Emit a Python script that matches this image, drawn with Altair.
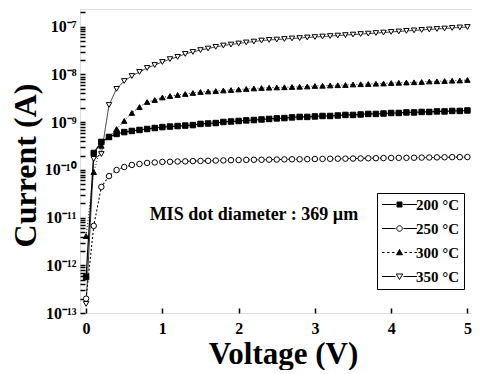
import altair as alt
import pandas as pd

voltage = [0.0, 0.1, 0.2, 0.3, 0.4, 0.5, 0.6, 0.7, 0.8, 0.9,
           1.0, 1.1, 1.2, 1.3, 1.4, 1.5, 1.6, 1.7, 1.8, 1.9,
           2.0, 2.1, 2.2, 2.3, 2.4, 2.5, 2.6, 2.7, 2.8, 2.9,
           3.0, 3.1, 3.2, 3.3, 3.4, 3.5, 3.6, 3.7, 3.8, 3.9,
           4.0, 4.1, 4.2, 4.3, 4.4, 4.5, 4.6, 4.7, 4.8, 4.9, 5.0]

i_200 = [5.7e-13, 2.26e-10, 3.85e-10, 4.9e-10, 5.67e-10, 6.2e-10, 6.55e-10, 6.87e-10, 7.2e-10, 7.55e-10,
         7.9e-10, 8.1e-10, 8.3e-10, 8.5e-10, 8.7e-10, 9.2e-10, 9.4e-10, 9.6e-10, 1.01e-9, 1.035e-9,
         1.06e-9, 1.09e-9, 1.11e-9, 1.14e-9, 1.17e-9, 1.2e-9, 1.22e-9, 1.26e-9, 1.29e-9, 1.29e-9,
         1.32e-9, 1.35e-9, 1.35e-9, 1.38e-9, 1.42e-9, 1.42e-9, 1.45e-9, 1.49e-9, 1.49e-9, 1.52e-9,
         1.56e-9, 1.56e-9, 1.6e-9, 1.6e-9, 1.64e-9, 1.64e-9, 1.68e-9, 1.68e-9, 1.72e-9, 1.72e-9, 1.76e-9]

i_250 = [2.0e-13, 6.7e-12, 4.4e-11, 7.4e-11, 9.95e-11, 1.15e-10, 1.27e-10, 1.33e-10, 1.4e-10, 1.43e-10,
         1.47e-10, 1.48e-10, 1.5e-10, 1.51e-10, 1.53e-10, 1.54e-10, 1.55e-10, 1.57e-10, 1.58e-10, 1.6e-10,
         1.61e-10, 1.62e-10, 1.63e-10, 1.63e-10, 1.64e-10, 1.65e-10, 1.66e-10, 1.67e-10, 1.67e-10, 1.68e-10,
         1.69e-10, 1.7e-10, 1.71e-10, 1.72e-10, 1.72e-10, 1.73e-10, 1.74e-10, 1.75e-10, 1.76e-10, 1.77e-10,
         1.78e-10, 1.79e-10, 1.79e-10, 1.8e-10, 1.81e-10, 1.82e-10, 1.83e-10, 1.84e-10, 1.85e-10, 1.85e-10, 1.86e-10]

i_300 = [4.1e-12, 9.0e-11, 3.2e-10, 4.9e-10, 7.2e-10, 1.06e-9, 1.56e-9, 2.08e-9, 2.65e-9, 2.92e-9,
         3.3e-9, 3.54e-9, 3.72e-9, 3.9e-9, 4.1e-9, 4.3e-9, 4.4e-9, 4.5e-9, 4.62e-9, 4.73e-9,
         4.85e-9, 4.97e-9, 5.09e-9, 5.21e-9, 5.28e-9, 5.34e-9, 5.4e-9, 5.47e-9, 5.53e-9, 5.6e-9,
         5.74e-9, 5.8e-9, 5.88e-9, 5.95e-9, 6.02e-9, 6.17e-9, 6.25e-9, 6.32e-9, 6.4e-9, 6.47e-9,
         6.63e-9, 6.7e-9, 6.79e-9, 6.87e-9, 6.96e-9, 7.13e-9, 7.2e-9, 7.3e-9, 7.4e-9, 7.48e-9, 7.67e-9]

i_350 = [1.55e-13, 1.7e-10, 2.15e-10, 2.3e-9, 5.0e-9, 7.3e-9, 9.3e-9, 1.13e-8, 1.37e-8, 1.58e-8,
         1.83e-8, 2.1e-8, 2.34e-8, 2.7e-8, 2.97e-8, 3.25e-8, 3.5e-8, 3.8e-8, 4.05e-8, 4.25e-8,
         4.47e-8, 4.7e-8, 4.9e-8, 5.15e-8, 5.3e-8, 5.4e-8, 5.55e-8, 5.7e-8, 5.8e-8, 5.97e-8,
         6.1e-8, 6.25e-8, 6.4e-8, 6.55e-8, 6.7e-8, 6.87e-8, 7.05e-8, 7.2e-8, 7.4e-8, 7.57e-8,
         7.8e-8, 7.98e-8, 8.2e-8, 8.4e-8, 8.6e-8, 8.8e-8, 9.0e-8, 9.2e-8, 9.45e-8, 9.7e-8, 9.9e-8]

series_names = ["200 °C", "250 °C", "300 °C", "350 °C"]
series_values = [i_200, i_250, i_300, i_350]

x_ticks = [0, 0.5, 1, 1.5, 2, 2.5, 3, 3.5, 4, 4.5, 5]
y_ticks = [m * 10.0 ** e for e in range(-13, -6) for m in range(1, 10) if m * 10.0 ** e <= 2.3e-7]
y_labels = ["10⁻¹³", "10⁻¹²", "10⁻¹¹", "10⁻¹⁰", "10⁻⁹", "10⁻⁸", "10⁻⁷"]

note_text = ["MIS dot diameter : 369 µm"]
note_x = [2.2]
note_y = [1.13e-11]

rows = []
for name, vals in zip(series_names, series_values):
    for v, i in zip(voltage, vals):
        rows.append({"V": v, "I": i, "T": name})
df = pd.DataFrame(rows)

# legend-only rows, placed outside the x domain so they are clipped away
legend_df = pd.DataFrame({"V": [-1.0] * 4, "I": [1e-10] * 4, "T": series_names})

FONT = "Liberation Serif"

xscale = alt.Scale(domain=[-0.08, 5.06], nice=False, zero=False)
yscale = alt.Scale(type="log", domain=[1e-13, 2.36e-7], nice=False)

label_arr = "[" + ",".join("'" + s + "'" for s in y_labels) + "]"
y_label_expr = (
    "abs(log(datum.value)/LN10 - round(log(datum.value)/LN10)) < 0.001 ? "
    + label_arr + "[round(log(datum.value)/LN10) + 13] : ''"
)

xaxis = alt.Axis(values=x_ticks, labelExpr="datum.value % 1 == 0 ? format(datum.value, 'd') : ''",
                 offset=-5, tickSize=5, tickWidth=1.5, tickColor="black", domain=False, grid=False,
                 labelFont=FONT, labelFontSize=16, labelFontWeight="bold", labelColor="black",
                 labelPadding=7, labelOverlap=False,
                 title="Voltage (V)", titleFont=FONT, titleFontSize=31, titleFontWeight="bold",
                 titleColor="black", titleX=203, titleY=55, titleBaseline="alphabetic")
yaxis = alt.Axis(values=y_ticks, labelExpr=y_label_expr,
                 offset=-5, tickSize=5, tickWidth=1.5, tickColor="black", domain=False, grid=False,
                 labelFont=FONT, labelFontSize=16, labelFontWeight="bold", labelColor="black",
                 labelPadding=4, labelOverlap=False,
                 title="Current (A)", titleFont=FONT, titleFontSize=32, titleFontWeight="bold",
                 titleColor="black", titleX=-60, titleY=156, titleAngle=-90, titleBaseline="middle",
                 titleAlign="center")

dom = series_names

lines = alt.Chart(df).mark_line(color="black", clip=True).encode(
    x=alt.X("V:Q", scale=xscale, axis=xaxis),
    y=alt.Y("I:Q", scale=yscale, axis=yaxis),
    strokeDash=alt.StrokeDash("T:N", scale=alt.Scale(domain=dom, range=[[1, 0], [2, 2], [1, 2], [1, 0]]), legend=None),
    strokeWidth=alt.StrokeWidth("T:N", scale=alt.Scale(domain=dom, range=[1.2, 0.8, 1.0, 1.0]), legend=None),
    detail="T:N",
)

points = alt.Chart(df).mark_point(filled=True, stroke="black", strokeWidth=1, opacity=1, clip=True).encode(
    x=alt.X("V:Q", scale=xscale),
    y=alt.Y("I:Q", scale=yscale),
    shape=alt.Shape("T:N", scale=alt.Scale(domain=dom, range=["square", "circle", "triangle-up", "triangle-down"]), legend=None),
    fill=alt.Fill("T:N", scale=alt.Scale(domain=dom, range=["black", "white", "black", "white"]), legend=None),
    size=alt.Size("T:N", scale=alt.Scale(domain=dom, range=[30, 30, 22, 55]), legend=None),
)

legend_paths = [
    "M-7,0H-1.4M1.4,0H7M-1,-1H1V1H-1Z",
    "M-7,0H-1.6M1.6,0H7M-1.1,0A1.1,1.1,0,1,0,1.1,0A1.1,1.1,0,1,0,-1.1,0Z",
    "M-7,0H-6M-5,0H-4M-3,0H-2M2,0H3M4,0H5M6,0H7M-1.2,0.9L0,-1.2L1.2,0.9Z",
    "M-7,0H-1.6M1.6,0H7M-1.3,-1L1.3,-1L0,1.2Z",
]

legend = alt.Legend(
    title=None, orient="none", legendX=297, legendY=184,
    strokeColor="black", fillColor="white", padding=4, rowPadding=8,
    labelFont=FONT, labelFontSize=15, labelFontWeight="bold", labelColor="black",
    symbolSize=25, symbolStrokeWidth=1, symbolOffset=11, labelOffset=9,
    symbolStrokeColor="black",
)

legend_layer = alt.Chart(legend_df).mark_point(filled=True, strokeWidth=1, size=25, opacity=1, clip=True).encode(
    x=alt.X("V:Q", scale=xscale),
    y=alt.Y("I:Q", scale=yscale),
    shape=alt.Shape("T:N", scale=alt.Scale(domain=dom, range=legend_paths), legend=legend),
    fill=alt.Fill("T:N", scale=alt.Scale(domain=dom, range=["black", "white", "black", "white"]), legend=legend),
    stroke=alt.Stroke("T:N", scale=alt.Scale(domain=dom, range=["black", "black", "black", "black"]), legend=legend),
)

note_df = pd.DataFrame({"x": note_x, "y": note_y, "t": note_text})
note = alt.Chart(note_df).mark_text(font=FONT, fontSize=18, fontWeight="bold", color="black",
                                    align="center", baseline="middle").encode(
    x=alt.X("x:Q", scale=xscale),
    y=alt.Y("y:Q", scale=yscale),
    text="t:N",
)

chart = alt.layer(lines, points, legend_layer, note).resolve_scale(
    shape="independent", fill="independent", stroke="independent"
).properties(
    width=392, height=304,
    autosize=alt.AutoSizeParams(type="none"),
    padding={"left": 72, "top": 1, "right": 0, "bottom": 57},
).configure_view(stroke="black", strokeWidth=2.5).configure(background="white")

chart.save("out.html", embed_options={"renderer": "svg", "actions": False})
